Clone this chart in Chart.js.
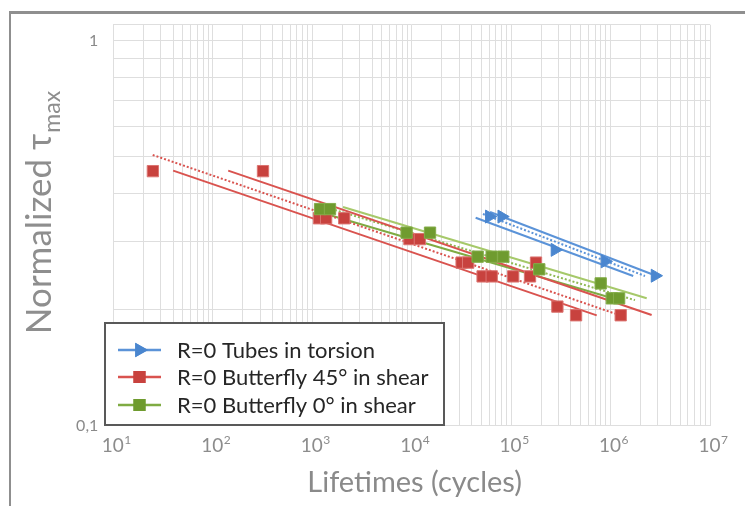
<!DOCTYPE html>
<html><head><meta charset="utf-8">
<script src="https://cdn.jsdelivr.net/npm/chart.js@4.4.1/dist/chart.umd.min.js"></script>
<style>
html,body{margin:0;padding:0;background:#fff;}
#wrap{position:relative;width:745px;height:506px;overflow:hidden;background:#fff;}
#frame{position:absolute;left:9px;top:11px;width:800px;height:600px;border-top:3px solid #8f8f8f;border-left:2px solid #8f8f8f;box-sizing:border-box;}
canvas{position:absolute;left:0;top:0;}
</style></head><body>
<div id="wrap"><div id="frame"></div><canvas id="c" width="745" height="506"></canvas></div>
<script>
// ---- data ----
const seriesLabels = ['R=0 Tubes in torsion', 'R=0 Butterfly 45° in shear', 'R=0 Butterfly 0° in shear'];

const tubesN   = [60400, 80500, 276000, 879000, 2800000];
const tubesTau = [0.349, 0.349, 0.286, 0.267, 0.245];

const b45N   = [25, 320, 1170, 1380, 2100, 9500, 12100, 31800, 37000, 51700, 63800, 105000, 155000, 178000, 292000, 450000, 1265000];
const b45Tau = [0.458, 0.458, 0.3455, 0.3455, 0.3455, 0.305, 0.305, 0.265, 0.265, 0.244, 0.244, 0.244, 0.244, 0.265, 0.2037, 0.1934, 0.1934];

const b0N   = [1200, 1510, 8900, 15300, 46100, 63800, 83500, 192000, 796000, 1030000, 1220000];
const b0Tau = [0.365, 0.365, 0.317, 0.317, 0.2746, 0.2746, 0.2746, 0.2546, 0.234, 0.214, 0.214];

// trend / scatter-band lines (end points)
const tubesUpperN = [61400, 2910000],  tubesUpperTau = [0.3588, 0.2446];
const tubesMeanN  = [52100, 2220000],  tubesMeanTau  = [0.3544, 0.2446];
const tubesLowerN = [44000, 1690000],  tubesLowerTau = [0.3467, 0.2446];

const b45UpperN = [143, 2590000],  b45UpperTau = [0.4595, 0.1937];
const b45MeanN  = [24.9, 1110000], b45MeanTau  = [0.5046, 0.1953];
const b45LowerN = [40, 726000],    b45LowerTau = [0.4595, 0.1933];

const b0UpperN = [2040, 2310000], b0UpperTau = [0.3697, 0.2141];
const b0MeanN  = [1694, 1760000], b0MeanTau  = [0.3631, 0.2117];
const b0LowerN = [1377, 1300000], b0LowerTau = [0.3544, 0.2107];

// axes
const xTickExponents = [1, 2, 3, 4, 5, 6, 7];
const xGridMantissas = [1, 2, 3, 4, 5, 6, 7, 8, 9];
const yGridValues = [0.1, 0.2, 0.3, 0.4, 0.5, 0.6, 0.7, 0.8, 0.9, 1, 1.1];
const yLabelValues = [0.1, 1];
const yLabelTexts  = ['0,1', '1'];
const xAxisTitle = 'Lifetimes (cycles)';
const yAxisTitleMain = 'Normalized τ';
const yAxisTitleSub = 'max';

// ---- styles ----
const BLUE = '#4a86cf', BLUE_L = '#5b93d8';
const RED = '#c8423e', RED_L = '#d9534f';
const GREEN = '#6f9b2f', GREEN_L = '#a6c96a', GREEN_D = '#7fab43', GREEN_M = '#8fb955';
const FONT = 'Lato, "Open Sans", sans-serif';

function pts(xs, ys) { return xs.map((x, i) => ({ x: x, y: ys[i] })); }
function lineDs(xs, ys, color, dotted) {
  return { data: pts(xs, ys), showLine: true, borderColor: color, backgroundColor: color,
           borderWidth: 2, pointRadius: 0, borderDash: dotted ? [2, 2] : [], fill: false, order: 2 };
}

const xGridValues = [];
xTickExponents.forEach(e => {
  if (e < 7) xGridMantissas.forEach(m => xGridValues.push(m * Math.pow(10, e)));
  else xGridValues.push(Math.pow(10, e));
});

const datasets = [
  { label: seriesLabels[2], data: pts(b0N, b0Tau), pointStyle: 'rect', pointRadius: 8,
    backgroundColor: GREEN, borderColor: '#84ad4a', borderWidth: 1, showLine: false, order: 1 },
  { label: seriesLabels[1], data: pts(b45N, b45Tau), pointStyle: 'rect', pointRadius: 8,
    backgroundColor: RED, borderColor: '#dc7572', borderWidth: 1, showLine: false, order: 1 },
  { label: seriesLabels[0], data: pts(tubesN, tubesTau), pointStyle: 'triangle', pointRotation: 90, pointRadius: 7.5,
    backgroundColor: BLUE, borderColor: BLUE, borderWidth: 1, showLine: false, order: 1 },
  lineDs(tubesUpperN, tubesUpperTau, BLUE_L, false),
  lineDs(tubesMeanN, tubesMeanTau, BLUE_L, true),
  lineDs(tubesLowerN, tubesLowerTau, BLUE_L, false),
  lineDs(b45UpperN, b45UpperTau, RED_L, false),
  lineDs(b45MeanN, b45MeanTau, RED_L, true),
  lineDs(b45LowerN, b45LowerTau, RED_L, false),
  lineDs(b0UpperN, b0UpperTau, GREEN_L, false),
  lineDs(b0MeanN, b0MeanTau, GREEN_M, true),
  lineDs(b0LowerN, b0LowerTau, GREEN_D, false)
];

const legendItems = [
  { text: seriesLabels[0], color: BLUE, line: BLUE_L, style: 'triangle' },
  { text: seriesLabels[1], color: RED, line: RED_L, style: 'rect' },
  { text: seriesLabels[2], color: GREEN, line: GREEN_D, style: 'rect' }
];

const textPlugin = {
  id: 'texts',
  afterDraw(chart) {
    const ctx = chart.ctx, xs = chart.scales.x, ca = chart.chartArea;
    ctx.save();
    // x tick labels with superscript exponents
    ctx.fillStyle = '#8c8c8c';
    ctx.textBaseline = 'middle';
    xTickExponents.forEach(e => {
      const px = xs.getPixelForValue(Math.pow(10, e));
      ctx.font = '19px ' + FONT;
      const w1 = ctx.measureText('10').width;
      ctx.font = '12px ' + FONT;
      const w2 = ctx.measureText(String(e)).width;
      const x0 = px + 3 - (w1 + w2) / 2;
      ctx.font = '19px ' + FONT;
      ctx.textAlign = 'left';
      ctx.fillText('10', x0, ca.bottom + 20);
      ctx.font = '12px ' + FONT;
      ctx.fillText(String(e), x0 + w1 + 0.5, ca.bottom + 14.5);
    });
    // x axis title
    ctx.font = '29px ' + FONT;
    ctx.fillStyle = '#8a8a8a';
    ctx.textAlign = 'center';
    ctx.fillText(xAxisTitle, (ca.left + ca.right) / 2 + 3, 483);
    // y axis title (rotated, subscript)
    ctx.save();
    ctx.font = '35px ' + FONT;
    const wm = ctx.measureText(yAxisTitleMain).width;
    ctx.font = '23px ' + FONT;
    const ws = ctx.measureText(yAxisTitleSub).width;
    const total = wm + ws;
    const cy = 213;
    ctx.translate(51, cy + total / 2);
    ctx.rotate(-Math.PI / 2);
    ctx.textAlign = 'left';
    ctx.textBaseline = 'alphabetic';
    ctx.fillStyle = '#8e8e8e';
    ctx.font = '35px ' + FONT;
    ctx.fillText(yAxisTitleMain, 0, 0);
    ctx.font = '23px ' + FONT;
    ctx.fillText(yAxisTitleSub, wm + 1, 9);
    ctx.restore();
    // legend box
    const lx = 105, ly = 323, lw = 339, lh = 102;
    ctx.fillStyle = '#ffffff';
    ctx.fillRect(lx, ly, lw, lh);
    ctx.strokeStyle = '#595959';
    ctx.lineWidth = 2;
    ctx.strokeRect(lx, ly, lw, lh);
    const rowY = [350, 377, 405];
    legendItems.forEach((it, i) => {
      const y = rowY[i];
      ctx.strokeStyle = it.line;
      ctx.lineWidth = 2.5;
      ctx.beginPath(); ctx.moveTo(118, y); ctx.lineTo(161, y); ctx.stroke();
      ctx.fillStyle = it.color;
      Chart.helpers.drawPoint(ctx, { pointStyle: it.style, rotation: it.style === 'triangle' ? 90 : 0, radius: 8.5, borderWidth: 0 }, 139.5, y);
      ctx.fill();
      ctx.fillStyle = '#262626';
      ctx.font = '22px ' + FONT;
      ctx.textAlign = 'left';
      ctx.textBaseline = 'middle';
      ctx.fillText(it.text, 177, y + 1);
    });
    ctx.restore();
  }
};

new Chart(document.getElementById('c'), {
  type: 'scatter',
  data: { datasets: datasets },
  options: {
    responsive: false,
    devicePixelRatio: 1,
    animation: false,
    layout: { padding: { left: 0, top: 24.7, right: 35, bottom: 0 } },
    plugins: { legend: { display: false }, tooltip: { enabled: false } },
    scales: {
      x: {
        type: 'logarithmic', min: 10, max: 1e7,
        afterBuildTicks: s => { s.ticks = xGridValues.map(v => ({ value: v })); },
        afterFit: s => { s.height = 80.5; },
        ticks: { display: false },
        grid: { color: '#dedede', lineWidth: 1, drawTicks: false },
        border: { display: false }
      },
      y: {
        type: 'logarithmic', min: 0.1, max: 1.1,
        afterBuildTicks: s => { s.ticks = yGridValues.map(v => ({ value: v })); },
        afterFit: s => { s.width = 113.3; },
        ticks: {
          padding: 15, color: '#8a8a8a', font: { family: FONT, size: 16 },
          autoSkip: false,
          callback: v => { const k = yLabelValues.findIndex(t => Math.abs(t - v) < 1e-9); return k >= 0 ? yLabelTexts[k] : ''; }
        },
        grid: { color: '#dedede', lineWidth: 1, drawTicks: false },
        border: { display: false }
      }
    }
  },
  plugins: [textPlugin]
});
</script>
</body></html>
